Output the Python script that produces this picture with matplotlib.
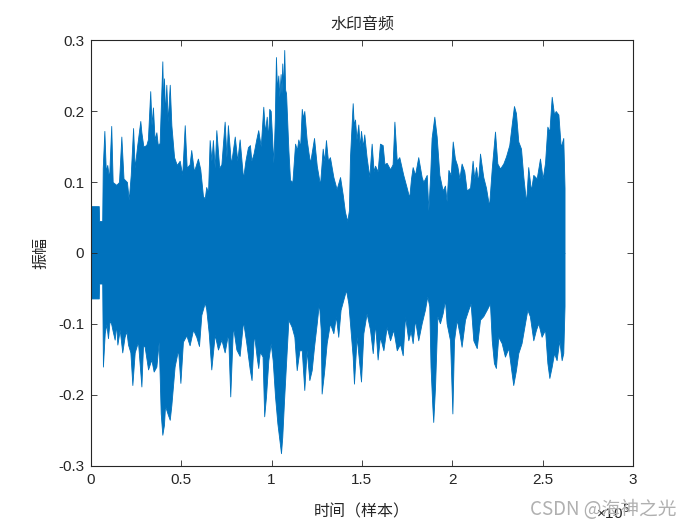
import numpy as np
import matplotlib
matplotlib.use('Agg')
import matplotlib.pyplot as plt

plt.rcParams['font.family'] = ['Liberation Sans', 'Noto Sans CJK SC', 'DejaVu Sans']
plt.rcParams['axes.unicode_minus'] = False

# envelope of the waveform (x in units of 1e5 samples)
upper_x = [0.000, 0.043, 0.045, 0.062, 0.065, 0.074, 0.082, 0.090, 0.100, 0.112,
           0.120, 0.140, 0.155, 0.168, 0.180, 0.199, 0.209, 0.220, 0.233, 0.242,
           0.255, 0.273, 0.279, 0.290, 0.306, 0.315, 0.328, 0.335, 0.343, 0.352,
           0.362, 0.370, 0.380, 0.395, 0.400, 0.404, 0.410, 0.417, 0.425, 0.436,
           0.445, 0.460, 0.475, 0.491, 0.505, 0.519, 0.530, 0.546, 0.555, 0.570,
           0.592, 0.605, 0.620, 0.630, 0.638, 0.648, 0.657, 0.667, 0.675, 0.685,
           0.694, 0.710, 0.722, 0.740, 0.750, 0.758, 0.775, 0.796, 0.810, 0.823,
           0.842, 0.855, 0.869, 0.880, 0.888, 0.900, 0.915, 0.926, 0.940, 0.954,
           0.963, 0.973, 0.980, 0.987, 0.995, 1.005, 1.010, 1.018, 1.024, 1.030,
           1.037, 1.043, 1.050, 1.055, 1.059, 1.064, 1.070, 1.075, 1.080, 1.093,
           1.102, 1.115, 1.130, 1.140, 1.148, 1.158, 1.167, 1.174, 1.181, 1.194,
           1.205, 1.213, 1.235, 1.250, 1.268, 1.283, 1.292, 1.301, 1.312, 1.323,
           1.342, 1.360, 1.379, 1.394, 1.406, 1.419, 1.428, 1.434, 1.449, 1.455,
           1.462, 1.470, 1.480, 1.488, 1.495, 1.505, 1.513, 1.526, 1.541, 1.554,
           1.565, 1.573, 1.587, 1.600, 1.615, 1.625, 1.637, 1.656, 1.670, 1.680,
           1.693, 1.707, 1.729, 1.748, 1.762, 1.772, 1.781, 1.794, 1.812, 1.831,
           1.840, 1.859, 1.868, 1.878, 1.886, 1.901, 1.914, 1.929, 1.947, 1.960,
           1.969, 1.979, 1.992, 2.003, 2.015, 2.028, 2.040, 2.052, 2.067, 2.080,
           2.099, 2.113, 2.122, 2.132, 2.143, 2.154, 2.172, 2.187, 2.204, 2.219,
           2.237, 2.250, 2.265, 2.283, 2.298, 2.316, 2.329, 2.342, 2.353, 2.366,
           2.381, 2.394, 2.409, 2.421, 2.436, 2.449, 2.468, 2.486, 2.501, 2.514,
           2.527, 2.538, 2.551, 2.564, 2.573, 2.588, 2.601, 2.615, 2.622]
upper_y = [0.066, 0.066, 0.045, 0.045, 0.120, 0.172, 0.115, 0.124, 0.105, 0.179,
           0.100, 0.096, 0.100, 0.164, 0.105, 0.100, 0.075, 0.110, 0.176, 0.120,
           0.150, 0.186, 0.170, 0.150, 0.152, 0.160, 0.228, 0.180, 0.205, 0.160,
           0.170, 0.152, 0.155, 0.270, 0.200, 0.246, 0.195, 0.237, 0.185, 0.237,
           0.180, 0.135, 0.124, 0.130, 0.110, 0.180, 0.120, 0.125, 0.145, 0.115,
           0.133, 0.118, 0.080, 0.077, 0.093, 0.085, 0.159, 0.130, 0.159, 0.120,
           0.173, 0.120, 0.125, 0.185, 0.135, 0.180, 0.125, 0.164, 0.130, 0.160,
           0.105, 0.130, 0.149, 0.152, 0.130, 0.140, 0.160, 0.173, 0.150, 0.206,
           0.170, 0.192, 0.160, 0.203, 0.200, 0.150, 0.127, 0.190, 0.276, 0.230,
           0.250, 0.220, 0.252, 0.225, 0.267, 0.230, 0.286, 0.230, 0.225, 0.145,
           0.103, 0.100, 0.154, 0.145, 0.160, 0.150, 0.203, 0.190, 0.200, 0.160,
           0.140, 0.127, 0.162, 0.123, 0.096, 0.147, 0.130, 0.159, 0.130, 0.135,
           0.107, 0.090, 0.107, 0.082, 0.058, 0.045, 0.060, 0.135, 0.211, 0.180,
           0.188, 0.160, 0.181, 0.150, 0.172, 0.150, 0.167, 0.135, 0.107, 0.154,
           0.115, 0.123, 0.115, 0.154, 0.152, 0.125, 0.127, 0.118, 0.125, 0.185,
           0.130, 0.135, 0.110, 0.092, 0.078, 0.105, 0.121, 0.110, 0.135, 0.107,
           0.100, 0.110, 0.060, 0.110, 0.162, 0.192, 0.164, 0.110, 0.088, 0.095,
           0.073, 0.117, 0.110, 0.157, 0.133, 0.123, 0.105, 0.126, 0.115, 0.088,
           0.092, 0.130, 0.105, 0.121, 0.100, 0.140, 0.107, 0.092, 0.066, 0.119,
           0.171, 0.126, 0.119, 0.126, 0.136, 0.152, 0.180, 0.207, 0.197, 0.157,
           0.147, 0.107, 0.071, 0.121, 0.088, 0.110, 0.105, 0.133, 0.105, 0.127,
           0.178, 0.171, 0.220, 0.195, 0.200, 0.195, 0.149, 0.162, 0.092]

lower_x = [0.000, 0.043, 0.045, 0.062, 0.066, 0.076, 0.085, 0.094, 0.103, 0.112,
           0.120, 0.131, 0.139, 0.146, 0.159, 0.173, 0.186, 0.196, 0.205, 0.218,
           0.229, 0.242, 0.260, 0.279, 0.288, 0.297, 0.316, 0.334, 0.347, 0.362,
           0.375, 0.386, 0.395, 0.404, 0.410, 0.417, 0.426, 0.436, 0.445, 0.463,
           0.482, 0.495, 0.509, 0.528, 0.546, 0.565, 0.583, 0.598, 0.611, 0.630,
           0.638, 0.652, 0.666, 0.685, 0.703, 0.722, 0.740, 0.759, 0.771, 0.786,
           0.805, 0.823, 0.842, 0.860, 0.879, 0.889, 0.902, 0.917, 0.926, 0.935,
           0.950, 0.959, 0.969, 0.982, 0.995, 1.006, 1.019, 1.032, 1.043, 1.052,
           1.059, 1.069, 1.080, 1.093, 1.111, 1.126, 1.139, 1.154, 1.167, 1.181,
           1.194, 1.209, 1.222, 1.235, 1.250, 1.262, 1.272, 1.277, 1.290, 1.305,
           1.323, 1.342, 1.356, 1.369, 1.382, 1.397, 1.412, 1.425, 1.434, 1.449,
           1.456, 1.471, 1.495, 1.508, 1.526, 1.545, 1.560, 1.573, 1.587, 1.600,
           1.619, 1.637, 1.656, 1.674, 1.693, 1.711, 1.726, 1.739, 1.757, 1.770,
           1.781, 1.794, 1.812, 1.831, 1.849, 1.862, 1.873, 1.880, 1.890, 1.895,
           1.905, 1.918, 1.932, 1.947, 1.960, 1.969, 1.988, 2.001, 2.010, 2.025,
           2.040, 2.052, 2.071, 2.089, 2.102, 2.117, 2.136, 2.154, 2.172, 2.191,
           2.209, 2.219, 2.231, 2.242, 2.255, 2.274, 2.292, 2.311, 2.329, 2.338,
           2.353, 2.366, 2.384, 2.403, 2.416, 2.430, 2.449, 2.464, 2.477, 2.495,
           2.514, 2.527, 2.538, 2.551, 2.564, 2.578, 2.593, 2.606, 2.615, 2.622]
lower_y = [-0.064, -0.064, -0.043, -0.043, -0.160, -0.113, -0.100, -0.120, -0.095, -0.100,
           -0.110, -0.122, -0.100, -0.129, -0.108, -0.140, -0.118, -0.110, -0.129, -0.140,
           -0.186, -0.140, -0.125, -0.188, -0.130, -0.132, -0.164, -0.150, -0.167, -0.160,
           -0.125, -0.226, -0.256, -0.242, -0.215, -0.221, -0.228, -0.235, -0.214, -0.160,
           -0.136, -0.183, -0.125, -0.116, -0.130, -0.108, -0.118, -0.131, -0.087, -0.070,
           -0.079, -0.113, -0.164, -0.115, -0.136, -0.122, -0.140, -0.113, -0.202, -0.103,
           -0.136, -0.145, -0.096, -0.127, -0.164, -0.179, -0.113, -0.146, -0.162, -0.139,
           -0.146, -0.230, -0.202, -0.151, -0.127, -0.151, -0.202, -0.240, -0.263, -0.282,
           -0.259, -0.207, -0.155, -0.094, -0.104, -0.118, -0.165, -0.137, -0.137, -0.193,
           -0.137, -0.179, -0.165, -0.132, -0.099, -0.070, -0.108, -0.198, -0.169, -0.127,
           -0.099, -0.113, -0.089, -0.118, -0.080, -0.066, -0.052, -0.071, -0.099, -0.146,
           -0.184, -0.118, -0.181, -0.113, -0.085, -0.108, -0.141, -0.099, -0.150, -0.118,
           -0.137, -0.104, -0.123, -0.108, -0.137, -0.128, -0.144, -0.089, -0.123, -0.110,
           -0.127, -0.094, -0.123, -0.099, -0.080, -0.061, -0.075, -0.160, -0.216, -0.238,
           -0.188, -0.089, -0.099, -0.085, -0.066, -0.099, -0.123, -0.226, -0.123, -0.094,
           -0.113, -0.132, -0.094, -0.080, -0.071, -0.123, -0.134, -0.094, -0.089, -0.080,
           -0.071, -0.123, -0.155, -0.162, -0.118, -0.127, -0.146, -0.134, -0.169, -0.186,
           -0.165, -0.141, -0.127, -0.099, -0.080, -0.089, -0.123, -0.108, -0.099, -0.118,
           -0.108, -0.155, -0.176, -0.160, -0.141, -0.151, -0.123, -0.151, -0.141, -0.075]

x_ticks = [0, 0.5, 1, 1.5, 2, 2.5, 3]
y_ticks = [-0.3, -0.2, -0.1, 0, 0.1, 0.2, 0.3]
y_labels = ['-0.3', '-0.2', '-0.1', '0', '0.1', '0.2', '0.3']

blue = '#0072BD'

fig = plt.figure(figsize=(7, 5.25), dpi=100)
ax = fig.add_axes([0.13, 0.1124, 0.774, 0.8114])

ux = np.array(upper_x) * 1e5
lx = np.array(lower_x) * 1e5
ax.fill_between(ux, 0, upper_y, color=blue, lw=0.6, edgecolor=blue)
ax.fill_between(lx, lower_y, 0, color=blue, lw=0.6, edgecolor=blue)

ax.set_xlim(0, 3e5)
ax.set_ylim(-0.3, 0.3)
ax.set_xticks([t * 1e5 for t in x_ticks])
ax.set_xticklabels([f'{t:g}' for t in x_ticks])
ax.set_yticks(y_ticks)
ax.set_yticklabels(y_labels)
ax.tick_params(direction='in', top=True, right=True, length=4, width=0.6,
               labelsize=11, colors='#262626', pad=5)
for s in ax.spines.values():
    s.set_linewidth(0.8)
    s.set_color('#262626')

cjk = ['Noto Sans CJK SC', 'DejaVu Sans']
ax.set_title('水印音频', family=cjk, fontsize=11.5, color='#262626', pad=8)
ax.set_xlabel('时间（样本）', family=cjk, fontsize=11.5, color='#262626', labelpad=12)
ax.set_ylabel('振幅', family=cjk, fontsize=11.5, color='#262626', labelpad=6)

fig.text(0.852, 0.005, '×10$^5$', fontsize=11, color='#262626', va='bottom')
fig.text(0.757, 0.01, 'CSDN @海神之光', family=cjk, fontsize=13.5, color='#b0b0b0', va='bottom')

fig.savefig('out.png', dpi=100)
